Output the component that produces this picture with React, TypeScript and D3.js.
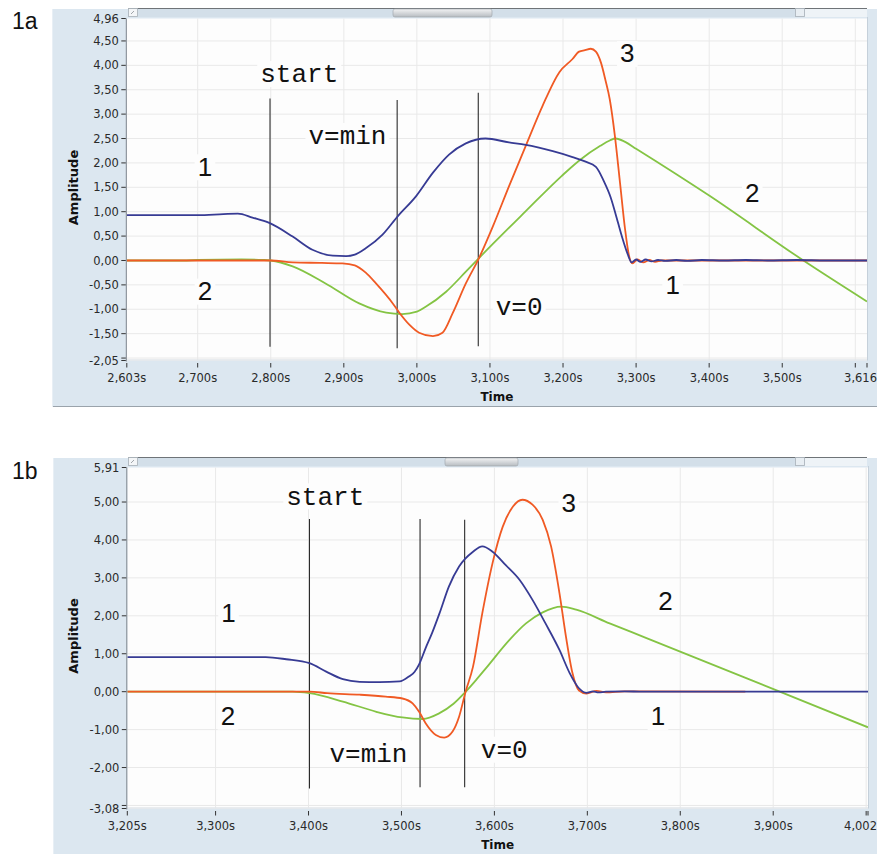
import React from 'react';
import * as d3 from 'd3';

// ---------- DATA (panel 1a) ----------
const blueA: [number, number][] = [
  [2.603, 0.93], [2.700, 0.93], [2.735, 0.95], [2.755, 0.96], [2.775, 0.88], [2.798, 0.77],
  [2.830, 0.49], [2.857, 0.22], [2.885, 0.10], [2.903, 0.09], [2.915, 0.12], [2.930, 0.25],
  [2.953, 0.53], [2.974, 0.91], [2.999, 1.32], [3.022, 1.80], [3.044, 2.17], [3.067, 2.40],
  [3.094, 2.50], [3.126, 2.42], [3.149, 2.37], [3.186, 2.24], [3.213, 2.12], [3.230, 2.03],
  [3.245, 1.92], [3.256, 1.62], [3.265, 1.30], [3.272, 0.95], [3.280, 0.52], [3.288, 0.15],
  [3.294, -0.04], [3.300, 0.02], [3.306, -0.03], [3.313, 0.02], [3.321, -0.02], [3.330, 0.01],
  [3.340, -0.01], [3.355, 0.01], [3.370, -0.01], [3.390, 0.01], [3.420, 0.00], [3.450, 0.01],
  [3.480, 0.00], [3.520, 0.01], [3.560, 0.00], [3.616, 0.00],
];
const greenA: [number, number][] = [
  [2.603, 0.00], [2.680, 0.00], [2.700, 0.01], [2.760, 0.02], [2.790, 0.01], [2.800, 0.00],
  [2.830, -0.12], [2.875, -0.47], [2.921, -0.88], [2.958, -1.07], [2.980, -1.10], [3.000, -1.05],
  [3.012, -0.95], [3.040, -0.64], [3.067, -0.23], [3.085, 0.05], [3.149, 1.01], [3.198, 1.73],
  [3.224, 2.07], [3.251, 2.35], [3.264, 2.46], [3.272, 2.50], [3.285, 2.43], [3.300, 2.29],
  [3.400, 1.33], [3.529, 0.00], [3.616, -0.84],
];
const orangeA: [number, number][] = [
  [2.603, 0.00], [2.800, 0.00], [2.830, -0.04], [2.870, -0.05], [2.898, -0.06], [2.915, -0.10],
  [2.930, -0.25], [2.944, -0.47], [2.967, -0.88], [2.976, -1.07], [2.990, -1.32], [3.003, -1.48],
  [3.022, -1.55], [3.035, -1.48], [3.049, -1.08], [3.067, -0.47], [3.085, 0.05], [3.104, 0.70],
  [3.126, 1.52], [3.149, 2.35], [3.172, 3.17], [3.195, 3.86], [3.213, 4.13], [3.222, 4.28],
  [3.230, 4.31], [3.238, 4.34], [3.245, 4.28], [3.252, 4.05], [3.258, 3.70], [3.264, 3.30],
  [3.271, 2.55], [3.278, 1.59], [3.285, 0.63], [3.290, 0.12], [3.295, -0.06], [3.302, 0.02],
  [3.310, -0.04], [3.318, 0.01], [3.326, -0.03], [3.335, 0.00], [3.616, 0.00],
];
const xTicksA = [2.7, 2.8, 2.9, 3.0, 3.1, 3.2, 3.3, 3.4, 3.5, 3.6];
const xEndsA = [2.603, 3.616];
const yTicksA = [-2.0, -1.5, -1.0, -0.5, 0.0, 0.5, 1.0, 1.5, 2.0, 2.5, 3.0, 3.5, 4.0, 4.5];
const yEndsA = [-2.05, 4.96];
const markerTimesA = [2.799, 2.973, 3.084];
const markerTopA = [3.32, 3.29, 3.44];
const markerBottomA = [-1.77, -1.80, -1.76];
const labelTextA = ['start', 'v=min', 'v=0', '1', '2', '3', '2', '1'];
const labelTA = [2.839, 2.905, 3.140, 2.710, 2.710, 3.288, 3.459, 3.350];
const labelVA = [3.65, 2.38, -1.12, 1.74, -0.81, 4.06, 1.19, -0.69];

// ---------- DATA (panel 1b) ----------
const blueB: [number, number][] = [
  [3.205, 0.91], [3.354, 0.91], [3.376, 0.855], [3.401, 0.75], [3.419, 0.53], [3.437, 0.33],
  [3.455, 0.26], [3.476, 0.25], [3.498, 0.27], [3.508, 0.40], [3.514, 0.52], [3.519, 0.72],
  [3.526, 1.15], [3.533, 1.55], [3.541, 2.07], [3.551, 2.77], [3.562, 3.30], [3.577, 3.69],
  [3.587, 3.83], [3.598, 3.69], [3.612, 3.34], [3.627, 2.95], [3.641, 2.42], [3.655, 1.80],
  [3.670, 1.10], [3.681, 0.49], [3.691, 0.09], [3.699, -0.03], [3.706, 0.01], [3.712, -0.02],
  [3.720, 0.00], [3.740, 0.01], [3.760, 0.00], [4.002, 0.00],
];
const greenB: [number, number][] = [
  [3.205, 0.00], [3.383, 0.00], [3.401, -0.04], [3.437, -0.26], [3.473, -0.53], [3.501, -0.68],
  [3.523, -0.72], [3.540, -0.58], [3.556, -0.32], [3.568, -0.03], [3.580, 0.30], [3.591, 0.62],
  [3.616, 1.36], [3.634, 1.80], [3.652, 2.09], [3.672, 2.24], [3.688, 2.16], [3.724, 1.80],
  [3.763, 1.42], [3.907, 0.00], [4.002, -0.94],
];
const orangeB: [number, number][] = [
  [3.205, 0.00], [3.401, 0.00], [3.420, -0.04], [3.455, -0.08], [3.483, -0.13], [3.501, -0.18],
  [3.512, -0.31], [3.519, -0.53], [3.526, -0.83], [3.537, -1.14], [3.546, -1.21], [3.555, -1.05],
  [3.562, -0.66], [3.569, 0.00], [3.577, 0.66], [3.587, 2.07], [3.598, 3.39], [3.609, 4.35],
  [3.620, 4.88], [3.630, 5.06], [3.641, 4.93], [3.652, 4.53], [3.661, 3.83], [3.670, 2.60],
  [3.677, 1.45], [3.684, 0.49], [3.691, 0.03], [3.699, -0.05], [3.710, 0.02], [3.720, -0.02],
  [3.740, 0.01], [3.870, 0.00],
];
const xTicksB = [3.3, 3.4, 3.5, 3.6, 3.7, 3.8, 3.9, 4.0];
const xEndsB = [3.205, 4.002];
const yTicksB = [-3, -2, -1, 0, 1, 2, 3, 4, 5];
const yEndsB = [-3.08, 5.91];
const markerTimesB = [3.401, 3.520, 3.568];
const markerTopB = [4.55, 4.55, 4.53];
const markerBottomB = [-2.55, -2.52, -2.52];
const labelTextB = ['start', 'v=min', 'v=0', '1', '2', '3', '2', '1'];
const labelTB = [3.418, 3.4645, 3.6106, 3.3139, 3.3133, 3.680, 3.784, 3.776];
const labelVB = [4.93, -1.85, -1.75, 1.85, -0.88, 4.75, 2.16, -0.89];

// ---------- STYLE ----------
const BLUE = '#373b94';
const ORANGE = '#f05a24';
const GREEN = '#84c444';
const PANEL = '#dce7f0';
const GRID = '#e9e9e9';

const fmtX = (v: number, dec: number) => v.toFixed(dec).replace('.', ',') + 's';
const fmtY = (v: number) => (v < 0 ? '-' : '') + Math.abs(v).toFixed(2).replace('.', ',');

type PanelCfg = {
  id: string;
  panelX: number; panelY: number; panelH: number;
  plotL: number; plotR: number; plotT: number; plotB: number;
  xDomain: [number, number]; yDomain: [number, number];
  xTicks: number[]; xEnds: number[]; xDec: number;
  yTicks: number[]; yEnds: number[];
  blue: [number, number][]; green: [number, number][]; orange: [number, number][];
  markerTimes: number[]; markerTop: number[]; markerBottom: number[];
  labelText: string[]; labelT: number[]; labelV: number[];
  thumb: [number, number];
  showBottomEdge: boolean;
};

function Panel({ c }: { c: PanelCfg }) {
  const x = d3.scaleLinear().domain(c.xDomain).range([c.plotL, c.plotR]);
  const y = d3.scaleLinear().domain(c.yDomain).range([c.plotB, c.plotT]);
  const line = d3.line<[number, number]>().x(d => x(d[0])).y(d => y(d[1])).curve(d3.curveMonotoneX);
  const clipId = 'clip-' + c.id;
  const sbY = c.plotT - 10.5;
  const tickFont = { fontFamily: 'DejaVu Sans, Verdana, sans-serif', fontSize: 11.5, fill: '#2a2a2a' };
  const xEndPx = c.xEnds.map(x);
  const yEndPx = c.yEnds.map(y);
  return (
    <g>
      {/* panel background */}
      <rect x={c.panelX} y={c.panelY} width={877 - c.panelX} height={c.panelH} fill={PANEL} />
      {c.showBottomEdge && (
        <line x1={c.panelX} x2={877} y1={c.panelY + c.panelH - 0.5} y2={c.panelY + c.panelH - 0.5} stroke="#9aa3ab" strokeWidth={1.2} />
      )}
      <rect x={c.panelX} y={c.panelY} width={1} height={c.panelH} fill="#e8eff5" />
      {/* scrollbar */}
      <rect x={128} y={sbY} width={739} height={9} fill="#d3dfe9" />
      <rect x={805} y={sbY} width={62} height={9} fill="#eef3f7" />
      <line x1={128} x2={867} y1={sbY + 0.5} y2={sbY + 0.5} stroke="#6f7478" strokeWidth={1} />
      <rect x={128.5} y={sbY + 0.5} width={9} height={8} fill="#f4f6f8" stroke="#a9b1b8" strokeWidth={0.8} />
      <path d={`M131,${sbY + 6} L134,${sbY + 3}`} stroke="#8a9096" strokeWidth={0.8} />
      <rect x={795.5} y={sbY + 0.5} width={9} height={8} fill="#e8eef3" stroke="#a9b1b8" strokeWidth={0.8} />
      <defs>
        <linearGradient id={'thumb-' + c.id} x1="0" y1="0" x2="0" y2="1">
          <stop offset="0" stopColor="#f2f3f4" />
          <stop offset="1" stopColor="#b7bcc1" />
        </linearGradient>
        <clipPath id={clipId}>
          <rect x={c.plotL} y={c.plotT} width={c.plotR - c.plotL} height={c.plotB - c.plotT} />
        </clipPath>
      </defs>
      <rect x={c.thumb[0]} y={sbY + 1} width={c.thumb[1] - c.thumb[0]} height={8} rx={2} fill={`url(#thumb-${c.id})`} stroke="#9ca3a9" strokeWidth={0.6} />
      {/* plot background */}
      <rect x={c.plotL} y={c.plotT} width={c.plotR - c.plotL} height={c.plotB - c.plotT} fill="#fdfdfd" />
      {/* grid */}
      {c.xTicks.map(t => (
        <line key={'gx' + t} x1={x(t)} x2={x(t)} y1={c.plotT} y2={c.plotB} stroke={GRID} strokeWidth={1} />
      ))}
      {c.yTicks.map(v => (
        <line key={'gy' + v} x1={c.plotL} x2={c.plotR} y1={y(v)} y2={y(v)} stroke={GRID} strokeWidth={1} />
      ))}
      <line x1={c.plotL} x2={c.plotR} y1={c.plotB - 0.5} y2={c.plotB - 0.5} stroke="#e2e6ea" strokeWidth={1.5} />
      <line x1={c.plotR + 0.5} x2={c.plotR + 0.5} y1={sbY + 9} y2={c.plotB} stroke="#c5d0da" strokeWidth={1} />
      {/* label boxes */}
      {c.labelText.map((s, i) => {
        const mono = s.length > 1;
        const fs = 26;
        const w = mono ? s.length * 0.6 * fs : 0.56 * fs;
        const cx = x(c.labelT[i]);
        const by = y(c.labelV[i]);
        return <rect key={'lb' + i} x={cx - w / 2 - 3} y={by - fs * 0.82} width={w + 6} height={fs * 1.0} fill="#fdfdfd" clipPath={`url(#${clipId})`} />;
      })}
      {/* markers */}
      {c.markerTimes.map((t, i) => (
        <line key={'m' + i} x1={x(t)} x2={x(t)} y1={y(c.markerTop[i])} y2={y(c.markerBottom[i])} stroke="#2b2b2b" strokeWidth={1.1} />
      ))}
      {/* series */}
      <g clipPath={`url(#${clipId})`} fill="none" strokeWidth={1.8} strokeLinejoin="round">
        <path d={line(c.green) || ''} stroke={GREEN} />
        <path d={line(c.orange) || ''} stroke={ORANGE} />
        <path d={line(c.blue) || ''} stroke={BLUE} />
      </g>
      {/* labels */}
      {c.labelText.map((s, i) => {
        const mono = s.length > 1;
        return (
          <text key={'lt' + i} x={x(c.labelT[i])} y={y(c.labelV[i])} textAnchor="middle"
            style={{ fontFamily: mono ? 'Liberation Mono, DejaVu Sans Mono, monospace' : 'Liberation Sans, Arial, sans-serif', fontSize: 26, fill: '#111' }}>
            {s}
          </text>
        );
      })}
      {/* y axis */}
      <line x1={c.plotL - 0.5} x2={c.plotL - 0.5} y1={c.plotT} y2={c.plotB + 1} stroke="#7d858c" strokeWidth={1} />
      {[...c.yTicks, ...c.yEnds].map(v => (
        <line key={'yt' + v} x1={c.plotL - 5.5} x2={c.plotL - 1} y1={y(v)} y2={y(v)} stroke="#333" strokeWidth={1} />
      ))}
      {c.yTicks.filter(v => yEndPx.every(p => Math.abs(p - y(v)) > 10)).concat(c.yEnds).map(v => (
        <text key={'yl' + v} x={c.plotL - 8} y={y(v)} dy="0.36em" textAnchor="end" style={tickFont}>{fmtY(v)}</text>
      ))}
      {/* x axis */}
      {[...c.xTicks, ...c.xEnds].map(t => (
        <line key={'xt' + t} x1={x(t)} x2={x(t)} y1={c.plotB + 2.5} y2={c.plotB + 7} stroke="#333" strokeWidth={1} />
      ))}
      {c.xTicks.filter(t => xEndPx.every(p => Math.abs(p - x(t)) > 30)).map(t => (
        <text key={'xl' + t} x={x(t)} y={c.plotB + 21} textAnchor="middle" style={tickFont}>{fmtX(t, 3)}</text>
      ))}
      <text x={x(c.xEnds[0])} y={c.plotB + 21} textAnchor="middle" style={tickFont}>{fmtX(c.xEnds[0], c.xDec)}</text>
      <text x={877} y={c.plotB + 21} textAnchor="end" style={tickFont}>{fmtX(c.xEnds[1], c.xDec).replace('s', '')}</text>
      {/* axis titles */}
      <text x={(c.plotL + c.plotR) / 2} y={c.plotB + 40.5} textAnchor="middle"
        style={{ fontFamily: 'DejaVu Sans, Verdana, sans-serif', fontWeight: 'bold', fontSize: 12, fill: '#111' }}>Time</text>
      <text transform={`translate(78,${(c.plotT + c.plotB) / 2 - 2}) rotate(-90)`} textAnchor="middle"
        style={{ fontFamily: 'DejaVu Sans, Verdana, sans-serif', fontWeight: 'bold', fontSize: 13, fill: '#111' }}>Amplitude</text>
    </g>
  );
}

const panelA: PanelCfg = {
  id: 'a', panelX: 52, panelY: 9, panelH: 398,
  plotL: 126.8, plotR: 867, plotT: 18.5, plotB: 360.5,
  xDomain: [2.603, 3.616], yDomain: [-2.05, 4.96],
  xTicks: xTicksA, xEnds: xEndsA, xDec: 3, yTicks: yTicksA, yEnds: yEndsA,
  blue: blueA, green: greenA, orange: orangeA,
  markerTimes: markerTimesA, markerTop: markerTopA, markerBottom: markerBottomA,
  labelText: labelTextA, labelT: labelTA, labelV: labelVA,
  thumb: [393, 492], showBottomEdge: true,
};
const panelB: PanelCfg = {
  id: 'b', panelX: 53, panelY: 458, panelH: 400,
  plotL: 127.3, plotR: 868, plotT: 467.5, plotB: 808.5,
  xDomain: [3.205, 4.002], yDomain: [-3.08, 5.91],
  xTicks: xTicksB, xEnds: xEndsB, xDec: 3, yTicks: yTicksB, yEnds: yEndsB,
  blue: blueB, green: greenB, orange: orangeB,
  markerTimes: markerTimesB, markerTop: markerTopB, markerBottom: markerBottomB,
  labelText: labelTextB, labelT: labelTB, labelV: labelVB,
  thumb: [445, 518], showBottomEdge: false,
};

export default function App() {
  return (
    <svg width={879} height={854} style={{ position: 'absolute', left: 0, top: 0, background: '#fff' }}>
      <rect width={879} height={854} fill="#fff" />
      <Panel c={panelA} />
      <Panel c={panelB} />
      <text x={12} y={28.5} style={{ fontFamily: 'Liberation Sans, Arial, sans-serif', fontSize: 23, fill: '#111' }}>1a</text>
      <text x={12} y={479} style={{ fontFamily: 'Liberation Sans, Arial, sans-serif', fontSize: 23, fill: '#111' }}>1b</text>
    </svg>
  );
}
